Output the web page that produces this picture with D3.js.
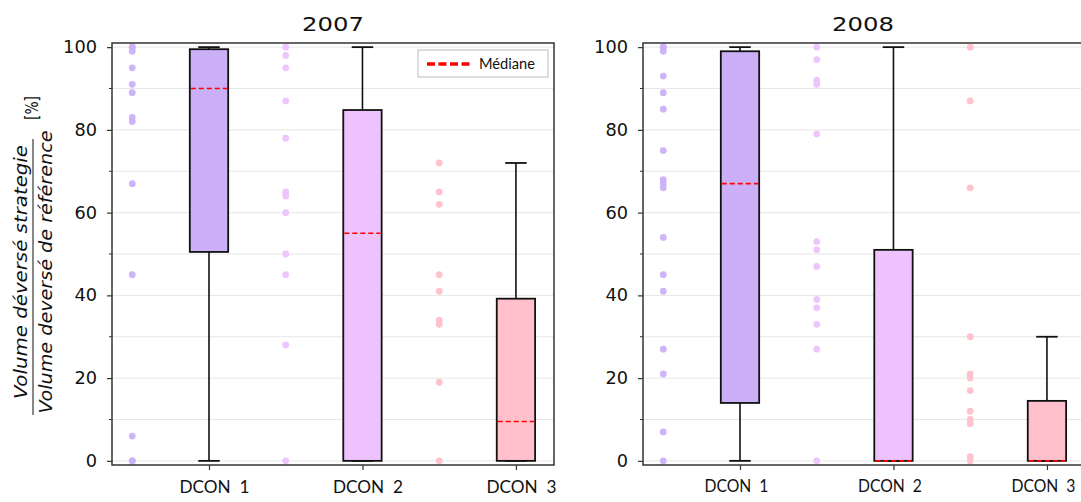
<!DOCTYPE html>
<html><head><meta charset="utf-8">
<script src="https://cdn.jsdelivr.net/npm/d3@7"></script>
<style>body{margin:0;background:#fff}svg{display:block}</style>
</head><body><div id="c"></div>
<script>
const categories = ["DCON  1", "DCON  2", "DCON  3"];
const years = ["2007", "2008"];
const yTicks = [0, 20, 40, 60, 80, 100];
const yMinorTicks = [10, 30, 50, 70, 90];
const colors = ["#cbb0f8", "#eec2fd", "#ffc0cb"];

// box statistics per year: whisker low, Q1, median, Q3, whisker high
const whiskerLow2007 = [0, 0, 0];
const q1_2007 = [50.5, 0, 0];
const median2007 = [90, 55, 9.5];
const q3_2007 = [99.5, 84.8, 39.2];
const whiskerHigh2007 = [100, 100, 72];

const whiskerLow2008 = [0, 0, 0];
const q1_2008 = [14, 0, 0];
const median2008 = [67, 0, 0];
const q3_2008 = [99, 51, 14.5];
const whiskerHigh2008 = [100, 100, 30];

// individual observations (strip points)
const points2007_dcon1 = [100, 100, 99, 95, 91, 89, 83, 82, 67, 45, 6, 0, 0];
const points2007_dcon2 = [100, 98, 95, 87, 78, 65, 64, 60, 50, 45, 28, 0];
const points2007_dcon3 = [72, 65, 62, 45, 41, 34, 33, 19, 0];
const points2008_dcon1 = [100, 100, 99, 93, 89, 85, 75, 68, 67, 66, 54, 45, 41, 27, 21, 7, 0];
const points2008_dcon2 = [100, 97, 92, 91, 79, 53, 51, 47, 39, 37, 33, 27, 0];
const points2008_dcon3 = [100, 87, 66, 30, 21, 20, 17, 12, 10, 9, 1, 0];

const panels = [
  {year: years[0], lo: whiskerLow2007, q1: q1_2007, med: median2007, q3: q3_2007, hi: whiskerHigh2007,
   pts: [points2007_dcon1, points2007_dcon2, points2007_dcon3], x0: 112, x1: 554, legend: true, labelDx: 5, labelW: 70, labelFs: 18},
  {year: years[1], lo: whiskerLow2008, q1: q1_2008, med: median2008, q3: q3_2008, hi: whiskerHigh2008,
   pts: [points2008_dcon1, points2008_dcon2, points2008_dcon3], x0: 643, x1: 1085, legend: false, labelDx: -4, labelW: 64, labelFs: 17}
];

const FONT = "'DejaVu Sans', Verdana, sans-serif";
const W = 1081, H = 502, plotTop = 43, plotBottom = 465;
const svg = d3.select("#c").append("svg").attr("width", W).attr("height", H);
const y = d3.scaleLinear().domain([-1, 101]).range([plotBottom, plotTop]);

panels.forEach(p => {
  const x = d3.scaleLinear().domain([0.368, 3.248]).range([p.x0, p.x1]);
  const g = svg.append("g");
  g.selectAll("line.grid").data(d3.range(0, 101, 10)).join("line")
    .attr("x1", p.x0).attr("x2", p.x1).attr("y1", d => y(d)).attr("y2", d => y(d))
    .attr("stroke", "#e6e6e6").attr("stroke-width", 1);
  p.pts.forEach((arr, i) => {
    g.selectAll(null).data(arr).join("circle")
      .attr("cx", x(i + 0.5)).attr("cy", d => y(d)).attr("r", 3.4)
      .attr("fill", colors[i]).attr("opacity", 0.95);
  });
  const bw = x(1.125) - x(0.875);
  const cw = x(1.07) - x(0.93);
  categories.forEach((c, i) => {
    const cx = x(i + 1);
    g.append("line").attr("x1", cx).attr("x2", cx).attr("y1", y(p.q3[i])).attr("y2", y(p.hi[i]))
      .attr("stroke", "#111").attr("stroke-width", 1.6);
    g.append("line").attr("x1", cx).attr("x2", cx).attr("y1", y(p.q1[i])).attr("y2", y(p.lo[i]))
      .attr("stroke", "#111").attr("stroke-width", 1.6);
    g.append("line").attr("x1", cx - cw / 2).attr("x2", cx + cw / 2).attr("y1", y(p.hi[i])).attr("y2", y(p.hi[i]))
      .attr("stroke", "#111").attr("stroke-width", 1.8);
    g.append("line").attr("x1", cx - cw / 2).attr("x2", cx + cw / 2).attr("y1", y(p.lo[i])).attr("y2", y(p.lo[i]))
      .attr("stroke", "#111").attr("stroke-width", 1.8);
    g.append("rect").attr("x", cx - bw / 2).attr("width", bw)
      .attr("y", y(p.q3[i])).attr("height", y(p.q1[i]) - y(p.q3[i]))
      .attr("fill", colors[i]).attr("stroke", "#111").attr("stroke-width", 1.8);
    g.append("line").attr("x1", cx - bw / 2 + 1).attr("x2", cx + bw / 2 - 1)
      .attr("y1", y(p.med[i])).attr("y2", y(p.med[i]))
      .attr("stroke", "#ff0000").attr("stroke-width", 1.6).attr("stroke-dasharray", "5,3");
  });
  g.append("rect").attr("x", p.x0).attr("y", plotTop).attr("width", p.x1 - p.x0).attr("height", plotBottom - plotTop)
    .attr("fill", "none").attr("stroke", "#333").attr("stroke-width", 1.5);
  // y axis
  const ya = d3.axisLeft(y).tickValues(yTicks).tickSize(5).tickPadding(10);
  const yg = g.append("g").attr("transform", `translate(${p.x0},0)`).call(ya);
  yg.select(".domain").remove();
  yg.attr("font-family", FONT);
  yg.selectAll("text").attr("font-size", 17).attr("fill", "#111")
    .attr("textLength", d => String(d).length * 11.3).attr("lengthAdjust", "spacingAndGlyphs");
  yg.selectAll("line").attr("stroke", "#333").attr("stroke-width", 1.2);
  g.selectAll(null).data(yMinorTicks).join("line")
    .attr("x1", p.x0 - 3).attr("x2", p.x0).attr("y1", d => y(d)).attr("y2", d => y(d))
    .attr("stroke", "#333").attr("stroke-width", 1);
  // x axis
  const xa = d3.axisBottom(x).tickValues([1, 2, 3]).tickFormat((d, i) => categories[i]).tickSize(5).tickPadding(10);
  const xg = g.append("g").attr("transform", `translate(0,${plotBottom})`).call(xa);
  xg.select(".domain").remove();
  xg.attr("font-family", "Lato, 'Open Sans', sans-serif");
  xg.selectAll("text").attr("font-size", p.labelFs).attr("fill", "#111").attr("dx", p.labelDx)
    .attr("xml:space", "preserve").style("white-space", "pre")
    .attr("textLength", p.labelW).attr("lengthAdjust", "spacingAndGlyphs");
  xg.selectAll("line").attr("stroke", "#333").attr("stroke-width", 1.2);
  // title
  g.append("text").attr("x", (p.x0 + p.x1) / 2 + (p.x0 > 600 ? -1 : 0)).attr("y", 31).attr("text-anchor", "middle")
    .attr("font-family", FONT).attr("font-size", 20).attr("fill", "#111")
    .attr("textLength", 62).attr("lengthAdjust", "spacingAndGlyphs").text(p.year);
  if (p.legend) {
    const lg = g.append("g");
    lg.append("rect").attr("x", 418).attr("y", 50).attr("width", 130).attr("height", 27)
      .attr("fill", "#fff").attr("stroke", "#bbb").attr("stroke-width", 1);
    lg.append("line").attr("x1", 427).attr("x2", 470).attr("y1", 64).attr("y2", 64)
      .attr("stroke", "#ff0000").attr("stroke-width", 3.5).attr("stroke-dasharray", "8,3.5");
    lg.append("text").attr("x", 479).attr("y", 69).attr("font-family", "Lato, 'Open Sans', sans-serif")
      .attr("font-size", 15.5).attr("fill", "#111").attr("textLength", 56).attr("lengthAdjust", "spacingAndGlyphs")
      .text("Médiane");
  }
});

// y label as fraction
const lab = svg.append("g").attr("font-family", FONT);
const cy = 272;
lab.append("text").attr("transform", `translate(20,${cy}) rotate(-90)`).attr("text-anchor", "middle")
  .attr("dominant-baseline", "central").attr("font-style", "italic")
  .attr("font-size", 18).attr("fill", "#111").attr("textLength", 254).attr("lengthAdjust", "spacingAndGlyphs")
  .text("Volume déversé strategie");
lab.append("text").attr("transform", `translate(45,${cy}) rotate(-90)`).attr("text-anchor", "middle")
  .attr("dominant-baseline", "central").attr("font-style", "italic")
  .attr("font-size", 18).attr("fill", "#111").attr("textLength", 283).attr("lengthAdjust", "spacingAndGlyphs")
  .text("Volume deversé de référence");
lab.append("line").attr("x1", 33).attr("x2", 33).attr("y1", 139).attr("y2", 415)
  .attr("stroke", "#111").attr("stroke-width", 1);
lab.append("text").attr("transform", `translate(32,108) rotate(-90)`).attr("text-anchor", "middle")
  .attr("dominant-baseline", "central")
  .attr("font-size", 17).attr("fill", "#111").attr("textLength", 24).attr("lengthAdjust", "spacingAndGlyphs").text("[%]");
</script></body></html>
